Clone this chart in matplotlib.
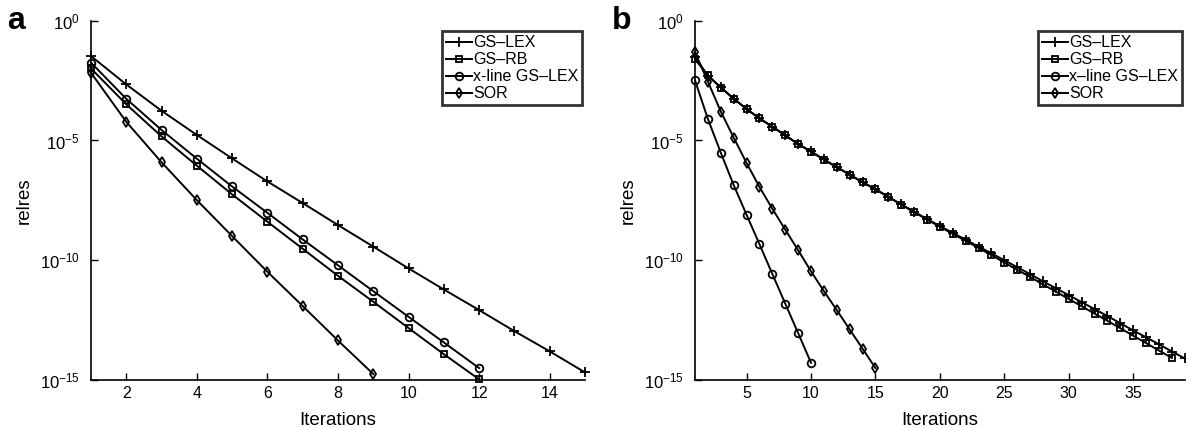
import numpy as np
import matplotlib.pyplot as plt

plt.rcParams['font.family'] = ['Liberation Sans', 'DejaVu Sans']
plt.rcParams['mathtext.fontset'] = 'custom'
plt.rcParams['mathtext.rm'] = 'Liberation Sans'
plt.rcParams['mathtext.it'] = 'Liberation Sans'

# (a) relative residual per iteration
a_gslex = [3.35e-2, 2.19e-3, 1.74e-4, 1.70e-5, 1.78e-6, 1.95e-7, 2.45e-8, 2.95e-9,
           3.72e-10, 4.57e-11, 6.03e-12, 8.32e-13, 1.10e-13, 1.58e-14, 2.09e-15]
a_gsrb = [1.02e-2, 3.24e-4, 1.48e-5, 8.91e-7, 5.62e-8, 4.07e-9, 3.02e-10, 2.24e-11,
          1.86e-12, 1.48e-13, 1.20e-14, 1.07e-15]
a_xline = [1.78e-2, 5.50e-4, 2.75e-5, 1.74e-6, 1.20e-7, 9.55e-9, 7.41e-10, 6.17e-11,
           5.13e-12, 4.37e-13, 3.72e-14, 3.16e-15]
a_sor = [6.76e-3, 6.03e-5, 1.23e-6, 3.24e-8, 1.02e-9, 3.31e-11, 1.23e-12, 4.47e-14, 1.78e-15]

# (b)
b_gslex = [3.16e-2, 4.90e-3, 1.66e-3, 5.62e-4, 2.09e-4, 8.51e-5, 3.80e-5, 1.66e-5,
           7.24e-6, 3.47e-6, 1.62e-6, 7.76e-7, 3.80e-7, 1.82e-7, 9.33e-8, 4.47e-8,
           2.14e-8, 1.07e-8, 5.25e-9, 2.69e-9, 1.38e-9, 7.24e-10, 3.72e-10, 1.95e-10,
           1.00e-10, 5.13e-11, 2.63e-11, 1.32e-11, 6.76e-12, 3.47e-12, 1.78e-12,
           9.12e-13, 4.68e-13, 2.34e-13, 1.17e-13, 6.03e-14, 3.09e-14, 1.55e-14, 7.94e-15]
b_gsrb = [2.45e-2, 5.25e-3, 1.62e-3, 5.50e-4, 2.04e-4, 8.32e-5, 3.72e-5, 1.62e-5,
          7.08e-6, 3.39e-6, 1.58e-6, 7.59e-7, 3.72e-7, 1.78e-7, 9.12e-8, 4.37e-8,
          2.09e-8, 1.02e-8, 5.01e-9, 2.51e-9, 1.26e-9, 6.46e-10, 3.24e-10, 1.66e-10,
          7.94e-11, 3.98e-11, 2.00e-11, 9.77e-12, 4.90e-12, 2.40e-12, 1.20e-12,
          5.89e-13, 2.95e-13, 1.45e-13, 7.08e-14, 3.47e-14, 1.70e-14, 8.32e-15]
b_xline = [3.24e-3, 7.94e-5, 3.09e-6, 1.38e-7, 7.94e-9, 4.68e-10, 2.69e-11, 1.55e-12,
           9.12e-14, 5.25e-15]
b_sor = [4.79e-2, 2.88e-3, 1.62e-4, 1.32e-5, 1.15e-6, 1.15e-7, 1.41e-8, 1.91e-9,
         2.63e-10, 3.47e-11, 5.13e-12, 8.32e-13, 1.29e-13, 2.04e-14, 3.16e-15]

a_labels = ['GS\u2013LEX', 'GS\u2013RB', 'x-line GS\u2013LEX', 'SOR']
b_labels = ['GS\u2013LEX', 'GS\u2013RB', 'x\u2013line GS\u2013LEX', 'SOR']
markers = ['+', 's', 'o', 'd']
msizes = [7, 4.5, 5.5, 5.5]

yticks = [1e-15, 1e-10, 1e-5, 1e0]
ytick_labels = ['$10^{\u221215}$', '$10^{\u221210}$', '$10^{\u22125}$', '$10^{0}$']

fig = plt.figure(figsize=(11.86, 4.28), dpi=100)
ax_a = fig.add_axes([0.0767, 0.1121, 0.4165, 0.8395])
ax_b = fig.add_axes([0.586, 0.1121, 0.413, 0.8395])


def draw(ax, series, labels, xmax, xticks, tag):
    for vals, lab, mk, ms in zip(series, labels, markers, msizes):
        it = np.arange(1, len(vals) + 1)
        ax.semilogy(it, vals, color='black', lw=1.4, marker=mk, ms=ms,
                    mfc='none', mec='black', mew=1.3, label=lab, clip_on=False)
    ax.set_xlim(1, xmax)
    ax.set_ylim(1e-15, 1e0)
    ax.set_xticks(xticks)
    ax.set_yticks(yticks)
    ax.set_yticklabels(ytick_labels)
    ax.minorticks_off()
    ax.tick_params(direction='in', length=5, width=1, labelsize=11.5)
    ax.tick_params(axis='x', pad=4)
    ax.tick_params(axis='y', labelsize=12, pad=8)
    for s in ['top', 'right']:
        ax.spines[s].set_visible(False)
    for s in ['left', 'bottom']:
        ax.spines[s].set_linewidth(1.2)
    ax.set_xlabel('Iterations', fontsize=13.5, labelpad=8)
    ax.set_ylabel('relres', fontsize=13.5, labelpad=5)
    leg = ax.legend(loc='upper right', bbox_to_anchor=(0.995, 0.97), fontsize=11.5,
                    frameon=True, fancybox=False, handlelength=1.6,
                    handletextpad=0.1, labelspacing=0.12, borderpad=0.25,
                    borderaxespad=0)
    leg.get_frame().set_edgecolor('black')
    leg.get_frame().set_linewidth(2)
    ax.text(-0.17, 1.0, tag, transform=ax.transAxes, fontsize=23,
            fontweight='bold', ha='left', va='center')


draw(ax_a, [a_gslex, a_gsrb, a_xline, a_sor], a_labels, 15, range(2, 15, 2), 'a')
draw(ax_b, [b_gslex, b_gsrb, b_xline, b_sor], b_labels, 39, range(5, 40, 5), 'b')

fig.savefig('out.png', dpi=100)
